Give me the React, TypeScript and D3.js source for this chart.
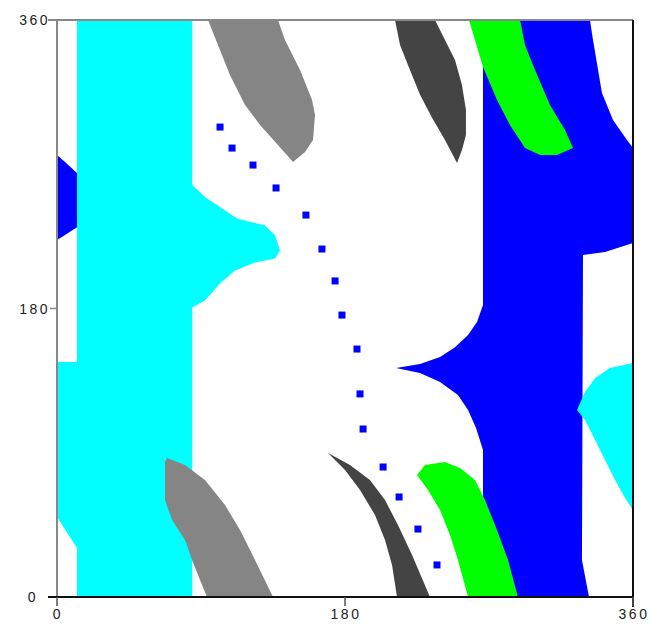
import React from "react";
import * as d3 from "d3";

type P = [number, number];

const xTicks = [0, 180, 360];
const yTicks = [0, 180, 360];

const cyanMain: P[] = [[12.5,360],[84.5,360],[84.5,257.1],[92.5,249.6],[112.5,236.2],[130,231.8],[136.3,225.5],[139.4,216.2],[136.3,211.2],[123.8,208.7],[111.3,203.7],[101.9,195.6],[92.5,185],[84.5,180.6],[84.5,0],[12.5,0],[12.5,30.6],[0,49.9],[0,146.6],[12.5,146.6]];
const cyanRight: P[] = [[360,146],[345.6,142.9],[336.3,136.6],[330,127.9],[325,116.7],[330,110.4],[336.3,97.9],[342.5,85.4],[348.8,73],[355,61.8],[360,54.3]];
const blueLeft: P[] = [[0,275.8],[5,271.4],[13,264],[13,231],[5,225.8],[0,222.7]];
const blueMain: P[] = [[266.25,360],[333.1,360],[335,347.5],[340.6,314.5],[347.5,297.6],[356.25,285.1],[360,280.1],[360,220.9],[342.5,215.3],[328.75,213.4],[328.1,23.1],[332.5,0],[266.25,0],[266.25,91.7],[261.9,105.4],[256.9,116.7],[250.6,126],[239.4,134.1],[226.9,139.8],[211.9,142.9],[226.9,145.4],[239.4,149.7],[248.75,155.9],[256.9,163.4],[262.5,171.6],[266.25,182.2]];
const greenTop: P[] = [[257.5,360],[289.4,360],[292.5,344.4],[298.75,328.8],[308.1,307],[317.5,291.4],[322.5,280.1],[312.5,275.8],[301.9,275.8],[292.5,280.1],[283.1,294.5],[275,310.1],[266.25,330.7]];
const greenBottom: P[] = [[225,76.1],[230,82.4],[242.5,84.2],[251.9,80.5],[261.25,73],[267.5,60.5],[275,41.8],[281.9,23.1],[288.1,0],[256.9,0],[250.6,23.1],[245.6,38.7],[239.4,54.3],[231.9,66.8]];
const grayTop: P[] = [[94.4,360],[138.1,360],[142.5,347.5],[151.9,328.8],[159.4,310.1],[161.25,300.7],[160,285.1],[155,277.6],[147.5,271.4],[138.1,282],[126.9,294.5],[117.5,307],[108.1,325.7],[100.6,344.4]];
const grayBottom: P[] = [[68.75,86.7],[80,82.4],[92.5,73],[105,57.4],[114.4,41.8],[123.75,23.1],[135,0],[93.75,0],[89.4,10.6],[84.4,23.1],[80,35.6],[71.9,48],[67.5,60.5],[67.5,84.2]];
const darkTop: P[] = [[211.25,360],[236.25,360],[242.5,347.5],[248.75,335],[253.1,319.4],[255.6,303.8],[255.6,288.2],[253.1,278.9],[250,270.8],[242.5,285.1],[234.4,299],[226.9,313.3],[220.6,328.8],[214.4,344.4]];
const darkBottom: P[] = [[169.4,89.8],[183.1,82.4],[195.6,73],[205,60.5],[213.1,44.9],[221.9,26.2],[233.1,0],[212.5,0],[209.4,20],[205,35.6],[198.75,51.1],[189.4,66.8],[180,79.2]];
const dots: P[] = [[101.9,293.2],[109.4,280.1],[122.5,269.5],[136.9,255.2],[155.6,238.3],[165.6,217.1],[173.8,197.2],[178.1,175.9],[187.5,154.7],[189.4,126.7],[191.3,104.8],[203.8,81.1],[213.8,62.4],[225.6,42.4],[237.5,20.0]];

const regions: { pts: P[]; color: string }[] = [
  { pts: blueLeft, color: "#0000ff" },
  { pts: cyanMain, color: "#00ffff" },
  { pts: blueMain, color: "#0000ff" },
  { pts: cyanRight, color: "#00ffff" },
  { pts: grayTop, color: "#858585" },
  { pts: grayBottom, color: "#858585" },
  { pts: darkTop, color: "#444444" },
  { pts: darkBottom, color: "#444444" },
  { pts: greenTop, color: "#00ff00" },
  { pts: greenBottom, color: "#00ff00" },
];

export default function App() {
  const x = d3.scaleLinear().domain([0, 360]).range([57, 633]);
  const y = d3.scaleLinear().domain([0, 360]).range([597, 20]);
  const line = d3
    .line<P>()
    .x((d) => x(d[0]))
    .y((d) => y(d[1]))
    .curve(d3.curveLinearClosed);
  const font = { fontFamily: "Liberation Sans, Arial, sans-serif", fontSize: 14, letterSpacing: 2.5, fill: "#222" };
  return (
    <svg width={653} height={624} style={{ position: "absolute", left: 0, top: 0 }}>
      <rect x={0} y={0} width={653} height={624} fill="#fff" />
      {regions.map((r, i) => (
        <path key={i} d={line(r.pts) || ""} fill={r.color} />
      ))}
      {dots.map((d, i) => (
        <rect key={i} x={x(d[0]) - 3.5} y={y(d[1]) - 3.5} width={7} height={7} fill="#0000ff" />
      ))}
      {/* frame */}
      <line x1={x(0)} x2={x(0)} y1={y(360)} y2={y(0)} stroke="#888" strokeWidth={2} />
      <line x1={48} x2={x(360)} y1={y(360)} y2={y(360)} stroke="#888" strokeWidth={2} />
      <line x1={48} x2={x(360) + 1} y1={y(0)} y2={y(0)} stroke="#111" strokeWidth={2} />
      <line x1={x(360)} x2={x(360)} y1={y(360)} y2={y(0) + 10} stroke="#111" strokeWidth={2} />
      {yTicks.filter((t) => t === 180).map((t) => (
        <line key={t} x1={50} x2={x(0)} y1={y(t)} y2={y(t)} stroke="#888" strokeWidth={1.5} />
      ))}
      {xTicks.map((t) => (
        <line key={t} x1={x(t)} x2={x(t)} y1={y(0)} y2={y(0) + 9} stroke="#555" strokeWidth={1.5} />
      ))}
      {yTicks.map((t) => (
        <text key={t} x={t === 0 ? 38 : 50} y={y(t) + 5} textAnchor="end" style={font}>
          {t}
        </text>
      ))}
      {xTicks.map((t) => (
        <text key={t} x={x(t) + 1} y={619} textAnchor="middle" style={font}>
          {t}
        </text>
      ))}
    </svg>
  );
}
